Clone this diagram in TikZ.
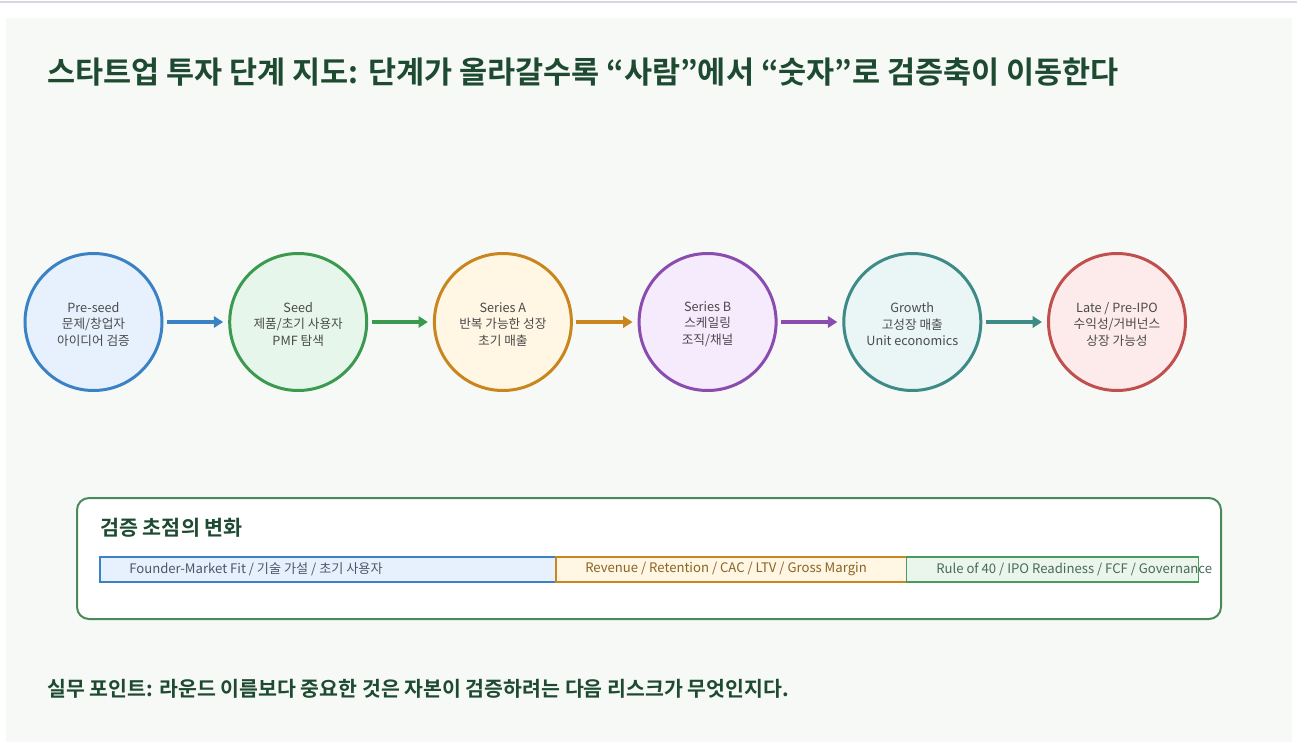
\documentclass[tikz,border=0pt]{standalone}
\usepackage{fontspec}
\setmainfont{Noto Sans CJK KR}[BoldFont={Noto Sans CJK KR Bold}]
\usetikzlibrary{arrows.meta}
\definecolor{panel}{HTML}{F7F9F6}
\definecolor{titlegreen}{HTML}{1D4A30}
\definecolor{txtgray}{HTML}{4A4A4A}
\definecolor{cblue}{HTML}{3B82C4}\definecolor{fblue}{HTML}{E7F1FD}
\definecolor{cgreen}{HTML}{3B9950}\definecolor{fgreen}{HTML}{E7F6EA}
\definecolor{corange}{HTML}{C9861F}\definecolor{forange}{HTML}{FFF6E3}
\definecolor{cpurple}{HTML}{8A4CAF}\definecolor{fpurple}{HTML}{F6EAFD}
\definecolor{cteal}{HTML}{3D8A87}\definecolor{fteal}{HTML}{E9F6F5}
\definecolor{cred}{HTML}{C0504D}\definecolor{fred}{HTML}{FDEAEA}
\definecolor{boxgreen}{HTML}{4A8A5A}
\definecolor{bargreen}{HTML}{4A9A5E}\definecolor{fbargreen}{HTML}{EAF5EC}
\newcommand{\stagetext}[1]{\raisebox{-1.6pt}[\height][\depth]{\parbox{90pt}{\centering #1}}}
\begin{document}
\begin{tikzpicture}[x=0.75pt,y=-0.75pt,
  stage/.style 2 args={circle, draw=#1, fill=#2, line width=2.25pt, minimum size=102.75pt,
    inner sep=0pt, outer sep=0pt, text=txtgray, align=center,
    font=\fontsize{9.5}{12.4}\selectfont},
  flow/.style={draw=#1, line width=3pt, -{Triangle[length=7pt,width=8.5pt]},
    shorten <=3.75pt, shorten >=4.9pt},
  bar/.style 2 args={draw=#1, fill=#2, line width=1.1pt},
  bartext/.style={anchor=west, inner sep=0pt, font=\fontsize{9.85}{11}\selectfont}
]
\useasboundingbox (0,0) rectangle (1297,742);
\fill[white] (0,0) rectangle (1297,742);
\draw[draw={rgb,255:red,213;green,217;blue,224}, line width=1.5pt] (0,2) -- (1297,2);
\fill[panel] (6,18) rectangle (1292,742);

\node[anchor=west, inner sep=0pt, text=titlegreen, font=\fontsize{22.9}{27}\selectfont\bfseries]
  (title) at (47,72) {스타트업 투자 단계 지도: 단계가 올라갈수록 “사람”에서 “숫자”로 검증축이 이동한다};

\node[stage={cblue}{fblue}]     (s1) at (93.5,322)  {\stagetext{Pre-seed\\문제/창업자\\아이디어 검증}};
\node[stage={cgreen}{fgreen}]   (s2) at (298.2,322) {\stagetext{Seed\\제품/초기 사용자\\PMF 탐색}};
\node[stage={corange}{forange}] (s3) at (502.9,322) {\stagetext{Series A\\반복 가능한 성장\\초기 매출}};
\node[stage={cpurple}{fpurple}] (s4) at (707.6,322) {\stagetext{Series B\\스케일링\\조직/채널}};
\node[stage={cteal}{fteal}]     (s5) at (912.3,322) {\stagetext{Growth\\고성장 매출\\Unit economics}};
\node[stage={cred}{fred}]       (s6) at (1117,322)  {\stagetext{Late / Pre-IPO\\수익성/거버넌스\\상장 가능성}};

\draw[flow=cblue]   (s1) -- (s2);
\draw[flow=cgreen]  (s2) -- (s3);
\draw[flow=corange] (s3) -- (s4);
\draw[flow=cpurple] (s4) -- (s5);
\draw[flow=cteal]   (s5) -- (s6);

\draw[boxgreen, fill=white, line width=1.5pt, rounded corners=9pt] (77,498) rectangle (1221,619);
\node[anchor=west, inner sep=0pt, text=titlegreen, font=\fontsize{15.5}{18}\selectfont\bfseries]
  (ftitle) at (100,527.5) {검증 초점의 변화};

\draw[bar={cblue}{fblue}]         (100,557) rectangle (556,582);
\draw[bar={corange}{forange}]     (556,557) rectangle (906.5,582);
\draw[bar={bargreen}{fbargreen}]  (906.5,557) rectangle (1198.5,582);
\node[bartext, text={rgb,255:red,74;green,88;blue,104}] (b1) at (129,569) {Founder-Market Fit / 기술 가설 / 초기 사용자};
\node[bartext, text={rgb,255:red,138;green,100;blue,37}] (b2) at (585,569) {Revenue / Retention / CAC / LTV / Gross Margin};
\node[bartext, text={rgb,255:red,74;green,106;blue,90}] (b3) at (936,569) {Rule of 40 / IPO Readiness / FCF / Governance};

\node[anchor=west, inner sep=0pt, text=titlegreen, font=\fontsize{15.4}{18}\selectfont\bfseries]
  (note) at (47,689) {실무 포인트: 라운드 이름보다 중요한 것은 자본이 검증하려는 다음 리스크가 무엇인지다.};
\end{tikzpicture}
\end{document}
